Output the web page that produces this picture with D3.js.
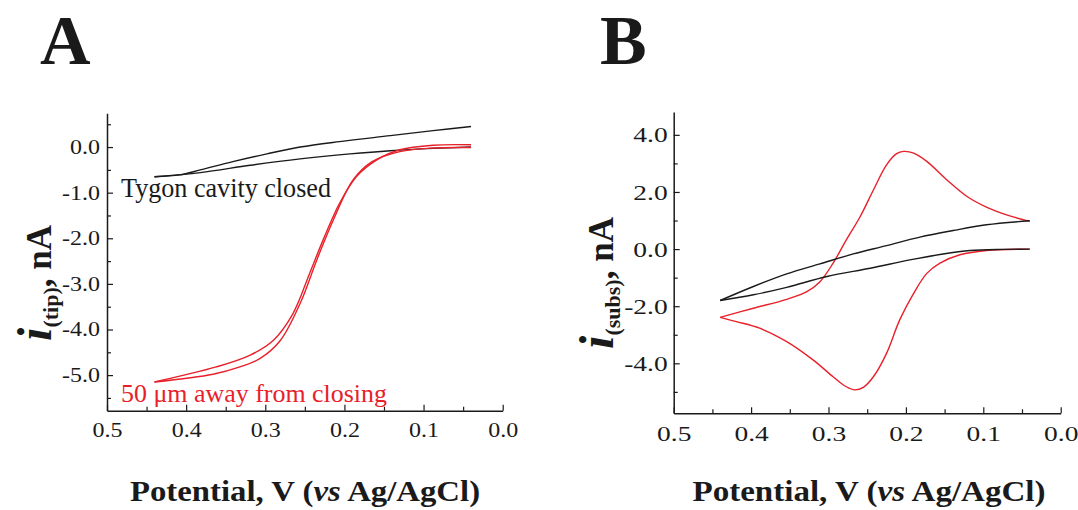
<!DOCTYPE html>
<html><head><meta charset="utf-8">
<script src="https://cdn.jsdelivr.net/npm/d3@7"></script>
<style>body{margin:0;background:#fff}svg{display:block}</style>
</head><body><svg id="c" width="1078" height="510"></svg>
<script>
// ---------- data ----------
const xTicks = [0.5, 0.4, 0.3, 0.2, 0.1, 0.0];
const xMinorTicks = [0.45, 0.35, 0.25, 0.15, 0.05];
const yTicksA = [0, -1, -2, -3, -4, -5];
const yMinorA = [0.5, -0.5, -1.5, -2.5, -3.5, -4.5, -5.5];
const yTicksB = [4, 2, 0, -2, -4];
const yMinorB = [3, 1, -1, -3, -5];

// Panel A: tip current (V, nA)
const tygonUpperA = [[0.44,-0.65],[0.408,-0.61],[0.382,-0.50],[0.341,-0.32],[0.298,-0.15],[0.256,0.0],[0.206,0.12],[0.142,0.25],[0.088,0.36],[0.04,0.45]];
const tygonLowerA = [[0.44,-0.65],[0.382,-0.56],[0.319,-0.40],[0.256,-0.26],[0.193,-0.15],[0.142,-0.08],[0.088,-0.03],[0.04,0.0]];
const awayFwdA = [[0.44,-5.15],[0.362,-4.82],[0.319,-4.56],[0.29,-4.24],[0.265,-3.65],[0.244,-2.77],[0.227,-2.04],[0.206,-1.23],[0.185,-0.65],[0.159,-0.28],[0.130,-0.06],[0.088,0.04],[0.04,0.05]];
const awayRevA = [[0.44,-5.15],[0.366,-4.98],[0.332,-4.82],[0.307,-4.64],[0.281,-4.24],[0.256,-3.43],[0.235,-2.48],[0.214,-1.60],[0.189,-0.72],[0.165,-0.32],[0.130,-0.10],[0.088,-0.02],[0.04,-0.01]];

// Panel B: substrate current (V, nA)
const tygonUpperB = [[0.44,-1.80],[0.397,-1.31],[0.354,-0.87],[0.311,-0.52],[0.268,-0.17],[0.225,0.12],[0.182,0.42],[0.139,0.65],[0.096,0.85],[0.04,0.99]];
const tygonLowerB = [[0.44,-1.80],[0.397,-1.60],[0.354,-1.34],[0.302,-0.96],[0.246,-0.67],[0.195,-0.38],[0.152,-0.17],[0.117,-0.05],[0.074,-0.01],[0.04,0.0]];
const cvCathodicB = [[0.04,0.0],[0.096,-0.05],[0.130,-0.20],[0.156,-0.49],[0.173,-0.85],[0.190,-1.55],[0.208,-2.48],[0.225,-3.65],[0.242,-4.47],[0.255,-4.84],[0.266,-4.93],[0.277,-4.82],[0.294,-4.47],[0.320,-3.88],[0.354,-3.24],[0.389,-2.77],[0.419,-2.54],[0.44,-2.39]];
const cvAnodicB = [[0.44,-2.39],[0.397,-2.07],[0.354,-1.76],[0.328,-1.49],[0.311,-1.14],[0.294,-0.49],[0.277,0.32],[0.259,1.14],[0.242,2.07],[0.225,2.95],[0.212,3.34],[0.203,3.42],[0.190,3.36],[0.173,3.07],[0.147,2.42],[0.121,1.84],[0.096,1.47],[0.070,1.20],[0.04,0.97]];

const labelA = "Tygon cavity closed";
const labelRedA = "50 μm away from closing";
const xTitle = ["Potential, V (", "vs", " Ag/AgCl)"];

// ---------- drawing ----------
const RED = "#e8202a", INK = "#1a1a1a";
const FONT = "'Liberation Serif','Times New Roman',serif";
const svg = d3.select("#c");
svg.append("rect").attr("width",1078).attr("height",510).attr("fill","#fff");
const fmt = d => d.toFixed(1);
function stretch(sel, k){
  sel.each(function(){ const w = this.getComputedTextLength();
    d3.select(this).attr("textLength", w*k).attr("lengthAdjust","spacingAndGlyphs"); });
}

function panel(cfg){
  const g = svg.append("g");
  const x = d3.scaleLinear().domain([0.5,0.0]).range(cfg.xr);
  const y = d3.scaleLinear().domain(cfg.yd).range(cfg.yr);
  const by = cfg.yr[1], lx = cfg.xr[0];
  // minor ticks
  g.append("g").attr("transform",`translate(0,${by})`)
    .call(d3.axisBottom(x).tickValues(xMinorTicks).tickSize(-4).tickFormat(""))
    .call(a=>a.select(".domain").remove());
  g.append("g").attr("transform",`translate(${lx},0)`)
    .call(d3.axisLeft(y).tickValues(cfg.yMinor).tickSize(-4).tickFormat(""))
    .call(a=>a.select(".domain").remove());
  // major axes
  const ax = g.append("g").attr("transform",`translate(0,${by})`)
    .call(d3.axisBottom(x).tickValues(xTicks).tickFormat(fmt).tickSize(-6).tickSizeOuter(0).tickPadding(cfg.xpad));
  const ay = g.append("g").attr("transform",`translate(${lx},0)`)
    .call(d3.axisLeft(y).tickValues(cfg.yTicks).tickFormat(fmt).tickSize(-6).tickSizeOuter(0).tickPadding(cfg.ypad));
  g.selectAll(".tick line").attr("stroke",INK).attr("stroke-width",1.2);
  g.selectAll(".domain").attr("stroke",INK).attr("stroke-width",1.5);
  [ax,ay].forEach(a=>{ const t = a.selectAll("text").attr("font-family",FONT)
     .attr("font-size",cfg.fs).attr("fill",INK); stretch(t, cfg.fsx); });
  // curves
  const line = d3.line().x(d=>x(d[0])).y(d=>y(d[1])).curve(d3.curveCatmullRom.alpha(0.5));
  cfg.series.forEach(s=>{
    g.append("path").datum(s.data).attr("d",line).attr("fill","none")
      .attr("stroke",s.color).attr("stroke-width",1.4).attr("stroke-linejoin","round");
  });
  // x title
  const t = g.append("text").attr("transform",`translate(${cfg.titleX},501) scale(${cfg.titleK},1)`)
    .attr("text-anchor","middle").attr("font-family",FONT)
    .attr("font-weight","bold").attr("font-size",29).attr("fill",INK);
  t.append("tspan").text(xTitle[0]);
  t.append("tspan").attr("font-style","italic").text(xTitle[1]);
  t.append("tspan").text(xTitle[2]);
  // y title
  const yt = g.append("text").attr("transform",`translate(${cfg.ylx},${cfg.ylc}) rotate(-90)`)
    .attr("text-anchor","middle").attr("font-family",FONT)
    .attr("font-weight","bold").attr("fill",INK).attr("font-size",35);
  yt.append("tspan").attr("font-style","italic").attr("font-size",48).text("i");
  yt.append("tspan").attr("font-size",22).attr("dy",7).text(cfg.sub);
  yt.append("tspan").attr("dy",-7).text(",\u00a0nA");
  // panel letter
  g.append("text").attr("x",cfg.letterX).attr("y",64).attr("font-family",FONT)
    .attr("font-weight","bold").attr("font-size",70).attr("fill",INK).text(cfg.letter);
  return {g,x,y};
}

const A = panel({xr:[107,502.7], yd:[0.74,-5.78], yr:[113.3,410.7], yTicks:yTicksA, yMinor:yMinorA,
  xpad:12, ypad:7, fs:20, fsx:1.2, ylx:51, ylc:283, sub:"(tip)", letter:"A", letterX:40, titleX:305, titleK:1.13,
  series:[{data:tygonUpperA,color:INK},{data:tygonLowerA,color:INK},{data:awayFwdA,color:RED},{data:awayRevA,color:RED}]});
const B = panel({xr:[673.7,1060.7], yd:[4.8,-5.75], yr:[112,413.3], yTicks:yTicksB, yMinor:yMinorB,
  xpad:12, ypad:6, fs:22, fsx:1.25, ylx:613, ylc:283, sub:"(subs)", letter:"B", letterX:600, titleX:869, titleK:1.14,
  series:[{data:cvCathodicB,color:RED},{data:cvAnodicB,color:RED},{data:tygonUpperB,color:INK},{data:tygonLowerB,color:INK}]});

const tl = A.g.append("text").attr("x",121).attr("y",197).attr("font-family",FONT)
  .attr("font-size",27).attr("fill",INK).text(labelA);
tl.attr("textLength",210).attr("lengthAdjust","spacingAndGlyphs");
const rl = A.g.append("text").attr("x",121).attr("y",402).attr("font-family",FONT)
  .attr("font-size",26).attr("fill",RED).text(labelRedA);
rl.attr("textLength",266).attr("lengthAdjust","spacingAndGlyphs");
</script></body></html>
